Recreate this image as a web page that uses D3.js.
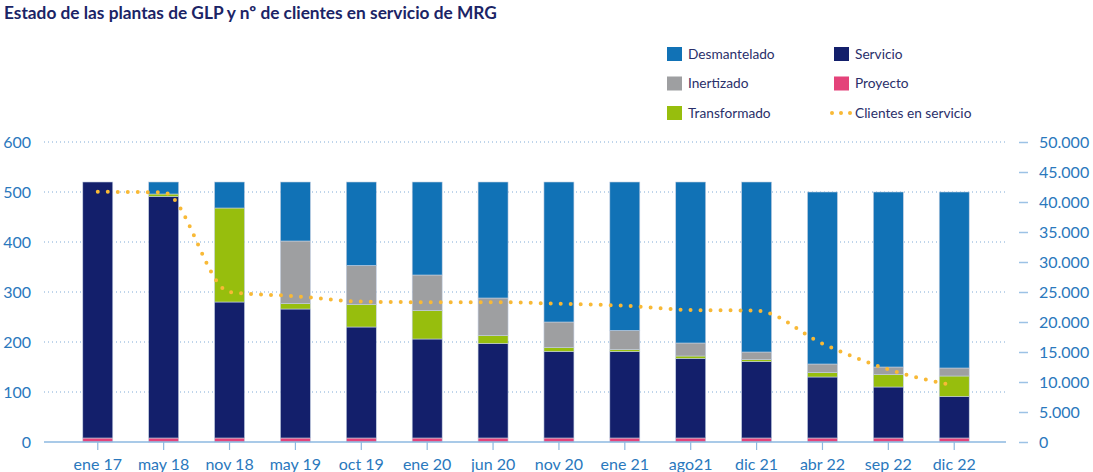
<!DOCTYPE html>
<meta charset="utf-8">
<style>
  body { margin: 0; background: #fff; }
  text { font-family: Lato, "Open Sans", sans-serif; }
</style>
<body>
<script src="https://cdn.jsdelivr.net/npm/d3@7"></script>
<script>
// data
var periods = ["ene 17", "may 18", "nov 18", "may 19", "oct 19", "ene 20", "jun 20",
               "nov 20", "ene 21", "ago21", "dic 21", "abr 22", "sep 22", "dic 22"];
var proyecto     = [8, 8, 8, 8, 8, 8, 8, 8, 8, 8, 8, 8, 8, 8];
var servicio     = [512, 483, 272, 258, 222, 198, 189, 173, 173, 159, 153, 122, 102, 83];
var transformado = [0, 5, 188, 11, 45, 57, 16, 8, 4, 5, 4, 9, 25, 41];
var inertizado   = [0, 0, 0, 125, 78, 71, 75, 51, 38, 26, 15, 17, 15, 16];
var desmantelado = [0, 24, 52, 118, 167, 186, 232, 280, 297, 322, 340, 344, 350, 352];
var clientes     = [41700, 41600, 25000, 24300, 23400, 23300, 23300, 23050, 22700, 22000, 21900, 16400, 12100, 9400];
var leftTicks  = [0, 100, 200, 300, 400, 500, 600];
var rightTicks = [0, 5000, 10000, 15000, 20000, 25000, 30000, 35000, 40000, 45000, 50000];

var keys = ["proyecto", "servicio", "transformado", "inertizado", "desmantelado"];
var colors = {
  desmantelado: "#1172b6",
  inertizado: "#9e9fa1",
  transformado: "#97be0d",
  servicio: "#131f6b",
  proyecto: "#e4437a"
};
var lineColor = "#f8b936";
var axisBlue = "#2a78bd";

var rows = periods.map(function(p, i) {
  return {period: p, proyecto: proyecto[i], servicio: servicio[i], transformado: transformado[i],
          inertizado: inertizado[i], desmantelado: desmantelado[i], clientes: clientes[i]};
});

var W = 1093, H = 472;
var svg = d3.select("body").append("svg")
    .attr("width", W)
    .attr("height", H);

var x = d3.scaleBand().domain(periods).range([65, 987]).paddingInner(0.545).paddingOuter(0.27);
var y = d3.scaleLinear().domain([0, 600]).range([442, 142]);
var y2 = d3.scaleLinear().domain([0, 50000]).range([442, 142]);

var es = d3.formatLocale({decimal: ",", thousands: ".", grouping: [3], currency: ["", "€"]});
var fmt = es.format(",d");

// title
svg.append("text")
    .attr("x", 4).attr("y", 19)
    .attr("font-size", 17.3).attr("font-weight", "bold")
    .attr("fill", "#1b2466")
    .text("Estado de las plantas de GLP y nº de clientes en servicio de MRG");

// dotted gridlines
svg.append("g").selectAll("line")
    .data(leftTicks.slice(1))
  .enter().append("line")
    .attr("x1", 44).attr("x2", 1006)
    .attr("y1", function(d) { return y(d); })
    .attr("y2", function(d) { return y(d); })
    .attr("stroke", "#7faad6")
    .attr("stroke-width", 1)
    .attr("stroke-dasharray", "1,3");

// left labels
svg.append("g").selectAll("text")
    .data(leftTicks)
  .enter().append("text")
    .attr("x", 31)
    .attr("y", function(d) { return y(d); })
    .attr("dy", "0.35em")
    .attr("text-anchor", "end")
    .attr("font-size", 16)
    .attr("fill", axisBlue)
    .text(function(d) { return d; });

// right axis
var right = svg.append("g").attr("transform", "translate(1019,0)")
    .call(d3.axisRight(y2).tickValues(rightTicks).tickSize(9).tickPadding(11).tickFormat(fmt));
right.select(".domain").remove();
right.selectAll("line").attr("stroke", "#9cc2e5").attr("stroke-width", 1.5);
right.selectAll("text").attr("fill", axisBlue).attr("font-size", 16)
    .attr("font-family", "Lato, 'Open Sans', sans-serif");

// stacked bars
var series = d3.stack().keys(keys)(rows);
svg.append("g").selectAll("g")
    .data(series)
  .enter().append("g")
    .attr("fill", function(d) { return colors[d.key]; })
  .selectAll("rect")
    .data(function(d) { return d; })
  .enter().append("rect")
    .attr("x", function(d) { return x(d.data.period); })
    .attr("y", function(d) { return y(d[1]); })
    .attr("width", x.bandwidth())
    .attr("height", function(d) { return y(d[0]) - y(d[1]); })
    .attr("stroke", "#c3cfe2")
    .attr("stroke-width", function(d) { return d[1] > d[0] ? 0.6 : 0; });

// x axis
svg.append("line")
    .attr("x1", 44).attr("x2", 1006)
    .attr("y1", 442).attr("y2", 442)
    .attr("stroke", "#8db8e0").attr("stroke-width", 1.5);

svg.append("g").selectAll("line")
    .data(periods)
  .enter().append("line")
    .attr("x1", function(d) { return x(d) + x.bandwidth() / 2; })
    .attr("x2", function(d) { return x(d) + x.bandwidth() / 2; })
    .attr("y1", 442).attr("y2", 450)
    .attr("stroke", "#8db8e0").attr("stroke-width", 1.2);

svg.append("g").selectAll("text")
    .data(periods)
  .enter().append("text")
    .attr("x", function(d) { return x(d) + x.bandwidth() / 2; })
    .attr("y", 464)
    .attr("dy", "0.35em")
    .attr("text-anchor", "middle")
    .attr("font-size", 16)
    .attr("fill", axisBlue)
    .text(function(d) { return d; });

// clients line
var line = d3.line()
    .x(function(d) { return x(d.period) + x.bandwidth() / 2; })
    .y(function(d) { return y2(d.clientes); })
    .curve(d3.curveMonotoneX);

svg.append("path")
    .datum(rows)
    .attr("d", line)
    .attr("fill", "none")
    .attr("stroke", lineColor)
    .attr("stroke-width", 4)
    .attr("stroke-linecap", "round")
    .attr("stroke-dasharray", "0,10");

// legend
var legendItems = [
  {key: "desmantelado", label: "Desmantelado", col: 0, row: 0},
  {key: "servicio", label: "Servicio", col: 1, row: 0},
  {key: "inertizado", label: "Inertizado", col: 0, row: 1},
  {key: "proyecto", label: "Proyecto", col: 1, row: 1},
  {key: "transformado", label: "Transformado", col: 0, row: 2},
  {key: "clientes", label: "Clientes en servicio", col: 1, row: 2}
];
var lg = svg.append("g").selectAll("g")
    .data(legendItems)
  .enter().append("g")
    .attr("transform", function(d) {
      return "translate(" + (d.col ? 834 : 667) + "," + (54 + d.row * 29.5) + ")";
    });

lg.filter(function(d) { return d.key !== "clientes"; })
  .append("rect")
    .attr("x", 0).attr("y", -7)
    .attr("width", 15).attr("height", 14)
    .attr("fill", function(d) { return colors[d.key]; });

lg.filter(function(d) { return d.key === "clientes"; })
  .selectAll("circle")
    .data([0, 9, 18])
  .enter().append("circle")
    .attr("cx", function(d) { return d - 2; })
    .attr("cy", 0)
    .attr("r", 2)
    .attr("fill", lineColor);

lg.append("text")
    .attr("x", 21)
    .attr("y", 0)
    .attr("dy", "0.35em")
    .attr("font-size", 13.7)
    .attr("fill", "#2a2f6a")
    .text(function(d) { return d.label; });
</script>
</body>
